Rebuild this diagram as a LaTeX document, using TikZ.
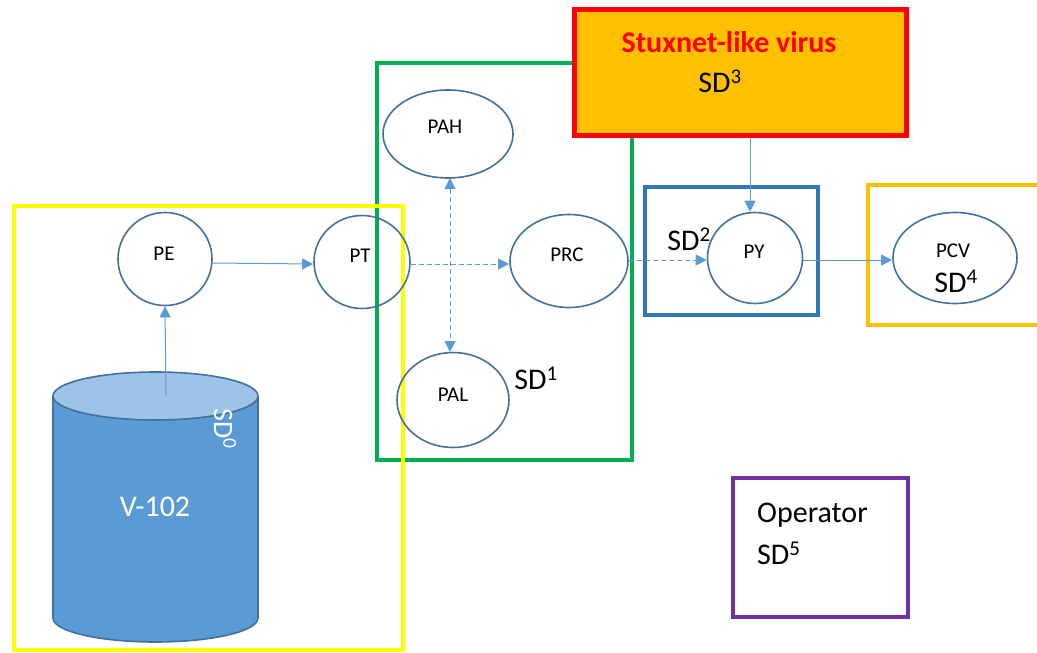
\documentclass[tikz,border=0pt]{standalone}
\usepackage{fontspec}
\setmainfont{Carlito}
\usetikzlibrary{shapes.geometric,arrows.meta}
\definecolor{ybox}{HTML}{FFFF00}
\definecolor{gbox}{HTML}{00B050}
\definecolor{rbox}{HTML}{FF0000}
\definecolor{obox}{HTML}{FFC000}
\definecolor{bbox}{HTML}{2E75B6}
\definecolor{pbox}{HTML}{7030A0}
\definecolor{nodeline}{HTML}{41719C}
\definecolor{arrowc}{HTML}{5B9BD5}
\definecolor{tankbody}{HTML}{5B9BD5}
\definecolor{tanktopc}{HTML}{9DC3E6}
\tikzset{
  zone/.style={line width=4pt},
  circ/.style={ellipse, draw=nodeline, line width=1.6pt, inner sep=0pt},
  lbl/.style={font=\fontsize{21}{23}\selectfont, inner sep=0pt},
  flow/.style={draw=arrowc, line width=1pt, -{Triangle[length=11pt,width=11pt]}},
  dflow/.style={flow, dashed, dash pattern=on 5pt off 3pt},
  bigtxt/.style={font=\fontsize{30}{34}\selectfont, inner sep=0pt}
}
\begin{document}
\begin{tikzpicture}[x=1pt,y=-1pt]
\useasboundingbox (0,0) rectangle (1037,653);
% tank
\fill[tankbody] (53,396) -- (53,618) arc[start angle=180,end angle=0,x radius=102.5,y radius=24] -- (258,396) -- cycle;
\draw[nodeline, line width=1.6pt] (53,396) -- (53,618) arc[start angle=180,end angle=0,x radius=102.5,y radius=24] -- (258,396);
\draw[nodeline, line width=1.6pt, fill=tanktopc] (155.5,396) ellipse[x radius=102.5, y radius=24];
\node[text=white, font=\fontsize{30}{34}\selectfont, inner sep=0pt] (v102) at (155,507) {V-102};
\node[text=white, font=\fontsize{28}{32}\selectfont, rotate=-90, inner sep=0pt] (sd0) at (225,429) {SD\textsuperscript{0}};
\coordinate (tanktop) at (166,396);

% zones
\draw[zone, gbox] (377,63) rectangle (632,460);
\draw[zone, ybox] (14,206) rectangle (403,650);
\node[draw=rbox, fill=obox, line width=5pt, minimum width=332pt, minimum height=126pt, inner sep=0pt] (virus) at (740,72) {};
\node[text=rbox, font=\bfseries\fontsize{30}{34}\selectfont, inner sep=0pt] (vtxt) at (729,42) {Stuxnet-like virus};
\node[bigtxt] (sd3) at (720,81) {SD\textsuperscript{3}};
\draw[zone, bbox] (645,187) rectangle (818,315);
\draw[zone, obox] (868,185) rectangle (1045,325);
\draw[zone, pbox] (733,478) rectangle (908,617);

% nodes
\node[circ, minimum width=94pt, minimum height=93pt] (pe) at (165,259) {};
\node[circ, minimum width=96pt, minimum height=93pt] (pt) at (362,262) {};
\node[circ, minimum width=130pt, minimum height=88pt] (pah) at (448,134) {};
\node[circ, minimum width=118pt, minimum height=93pt] (prc) at (569,261) {};
\node[circ, minimum width=112pt, minimum height=95pt] (pal) at (453,400) {};
\node[circ, minimum width=95pt, minimum height=91pt] (py) at (755,258) {};
\node[circ, minimum width=124pt, minimum height=91pt] (pcv) at (955,258) {};
\node[lbl] (petxt) at (164,254) {PE};
\node[lbl] (pttxt) at (360,256) {PT};
\node[lbl] (pahtxt) at (445,127) {PAH};
\node[lbl] (prctxt) at (567,255) {PRC};
\node[lbl] (paltxt) at (453,395) {PAL};
\node[lbl] (pytxt) at (754,252) {PY};
\node[lbl] (pcvtxt) at (953,251) {PCV};
\node[bigtxt] (sd4) at (956,281) {SD\textsuperscript{4}};
\node[bigtxt] (sd1) at (536,378) {SD\textsuperscript{1}};
\node[bigtxt] (sd2) at (689,239) {SD\textsuperscript{2}};
\node[bigtxt, anchor=west] (op) at (757,515) {Operator};
\node[bigtxt, anchor=west] (sd5) at (757,553) {SD\textsuperscript{5}};

% connectors
\draw[flow] (tanktop) -- (pe.south);
\draw[flow] (pe.east |- 0,263) -- (pt.west |- 0,264);
\draw[dflow] (pt.east |- 0,264) -- (prc.west |- 0,264);
\draw[dflow, {Triangle[length=11pt,width=11pt]}-{Triangle[length=11pt,width=11pt]}] (450,178) -- (450,352);
\draw[dflow] (prc.east |- 0,260) -- (py.west |- 0,260);
\draw[flow] (virus.south -| 750,0) -- (py.north -| 750,0);
\draw[flow] (py.east |- 0,260) -- (pcv.west |- 0,260);
\end{tikzpicture}
\end{document}
